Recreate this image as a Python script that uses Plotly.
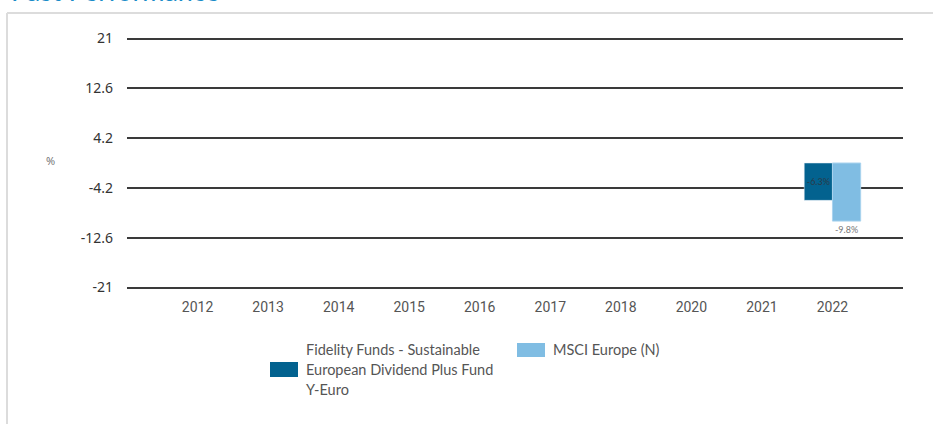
import plotly.graph_objects as go

years = ["2012", "2013", "2014", "2015", "2016", "2017", "2018", "2020", "2021", "2022"]
fund_name = "Fidelity Funds - Sustainable European Dividend Plus Fund Y-Euro"
fund_values = [None, None, None, None, None, None, None, None, None, -6.3]
index_name = "MSCI Europe (N)"
index_values = [None, None, None, None, None, None, None, None, None, -9.8]
y_ticks = [21, 12.6, 4.2, -4.2, -12.6, -21]

DARK = "#03628f"
LIGHT = "#80bde3"

W, H = 933, 424
ML, MR, MT, MB = 127, 30, 35, 133
PW, PH = W - ML - MR, H - MT - MB


def px(x):
    return (x - ML) / PW


def py(y):
    return (H - MB - y) / PH


def lbl(vals):
    return [None if v is None else f"{v}%" for v in vals]


fig = go.Figure()
fig.add_bar(x=years, y=fund_values, name=fund_name, marker_color=DARK,
            text=lbl(fund_values), textposition="inside", insidetextanchor="middle",
            textangle=0, constraintext="none",
            textfont=dict(size=9, color="#2a3a48", family="Lato"), showlegend=False,
            hoverinfo="skip")
fig.add_bar(x=years, y=index_values, name=index_name, marker_color=LIGHT,
            marker_line=dict(color="#a9d3ee", width=1),
            text=lbl(index_values), textposition="outside", textangle=0,
            constraintext="none", cliponaxis=False,
            textfont=dict(size=9, color="#777777", family="Lato"), showlegend=False,
            hoverinfo="skip")

shapes = [
    # panel border
    dict(type="line", xref="paper", yref="paper", x0=px(7), x1=px(940), y0=py(13), y1=py(13),
         line=dict(color="#dcdcdc", width=2)),
    dict(type="line", xref="paper", yref="paper", x0=px(7), x1=px(7), y0=py(13), y1=py(430),
         line=dict(color="#dcdcdc", width=2)),
    # legend swatches
    dict(type="rect", xref="paper", yref="paper", x0=px(270), x1=px(298), y0=py(362), y1=py(377),
         fillcolor=DARK, line=dict(width=0)),
    dict(type="rect", xref="paper", yref="paper", x0=px(517), x1=px(545), y0=py(343), y1=py(357),
         fillcolor=LIGHT, line=dict(width=0)),
]

legend_font = dict(family="Lato", size=14.5, color="#555555")
annotations = [
    dict(text="Past Performance", xref="paper", yref="paper", x=px(9), y=py(9),
         xanchor="left", yanchor="bottom", showarrow=False,
         font=dict(family="Lato", size=27, color="#1a8cc8")),
    dict(text="%", xref="paper", yref="paper", x=px(50), y=py(160),
         xanchor="center", yanchor="middle", showarrow=False,
         font=dict(family="Noto Sans", size=11, color="#777777")),
    dict(text="Fidelity Funds - Sustainable", xref="paper", yref="paper", x=px(304), y=py(349),
         xanchor="left", yanchor="middle", showarrow=False, font=legend_font),
    dict(text="European Dividend Plus Fund", xref="paper", yref="paper", x=px(304), y=py(369),
         xanchor="left", yanchor="middle", showarrow=False, font=legend_font),
    dict(text="Y-Euro", xref="paper", yref="paper", x=px(304), y=py(389),
         xanchor="left", yanchor="middle", showarrow=False, font=legend_font),
    dict(text=index_name, xref="paper", yref="paper", x=px(551), y=py(349),
         xanchor="left", yanchor="middle", showarrow=False, font=legend_font),
]

fig.update_layout(
    width=W, height=H,
    margin=dict(l=ML, r=MR, t=MT, b=MB, pad=0),
    paper_bgcolor="white", plot_bgcolor="white",
    barmode="group", bargap=0.2, bargroupgap=0,
    showlegend=False,
    shapes=shapes, annotations=annotations,
    xaxis=dict(type="category", categoryorder="array", categoryarray=years,
               range=[-1, len(years)], showgrid=False, zeroline=False, showline=False,
               ticks="", ticklabelstandoff=6,
               tickfont=dict(family="Roboto", size=14, color="#555555")),
    yaxis=dict(range=[-21.59, 21.59], tickmode="array", tickvals=y_ticks,
               ticktext=[f"{v:g}" for v in y_ticks],
               showgrid=True, gridcolor="#3a3a3a", gridwidth=2.2,
               zeroline=False, showline=False, ticks="", ticklabelstandoff=13,
               tickfont=dict(family="Noto Sans", size=14, color="#333333")),
)

fig.write_html("out.html")
